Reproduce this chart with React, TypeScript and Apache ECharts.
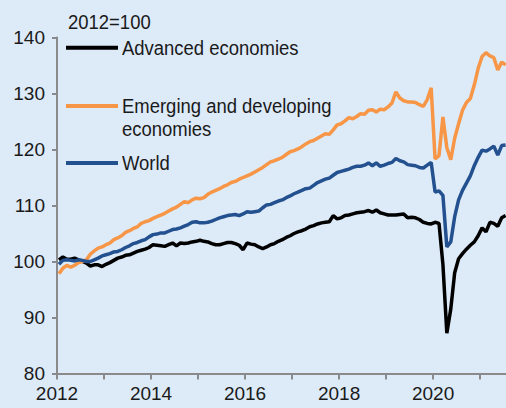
import React, { useEffect, useRef } from "react";
import * as echarts from "echarts";

// Monthly index (2012=100), Jan 2012 onwards
const advanced = [
  100.3, 100.8, 100.4, 100.4, 100.6, 100.3, 100.0, 99.7, 99.2, 99.4, 99.4, 99.1,
  99.5, 99.8, 100.2, 100.6, 100.8, 101.1, 101.2, 101.5, 101.8, 102.0, 102.2, 102.5,
  103.0, 102.9, 102.8, 102.7, 103.0, 103.3, 102.8, 103.3, 103.2, 103.3, 103.5, 103.6,
  103.8, 103.6, 103.5, 103.2, 103.0, 103.0, 103.2, 103.4, 103.4, 103.2, 102.9, 102.1,
  103.3, 103.1, 103.0, 102.6, 102.3, 102.6, 103.0, 103.2, 103.6, 103.9, 104.3, 104.6,
  105.0, 105.3, 105.5, 105.8, 106.2, 106.4, 106.7, 106.9, 107.0, 107.1, 108.2, 107.6,
  107.8, 108.2, 108.3, 108.5, 108.7, 108.8, 108.9, 109.1, 108.8, 109.2, 108.7, 108.5,
  108.3, 108.3, 108.3, 108.4, 108.5, 107.8, 107.9, 107.8, 107.5, 107.0, 106.8, 106.7,
  107.0, 106.8, 99.5, 87.2, 91.5, 98.0, 100.5, 101.4, 102.2, 102.9, 103.5, 104.6,
  106.0, 105.3, 107.0, 106.8, 106.3, 107.8, 108.2,
];
const emerging = [
  97.8, 98.8, 99.3, 99.0, 99.3, 99.8, 100.0, 100.3, 101.3, 101.9, 102.4, 102.6,
  103.0, 103.3, 103.9, 104.2, 104.6, 105.2, 105.5, 105.9, 106.2, 106.8, 107.1, 107.3,
  107.7, 108.0, 108.3, 108.6, 109.0, 109.4, 109.7, 110.2, 110.7, 110.5, 111.0, 111.3,
  111.2, 111.4, 112.0, 112.4, 112.7, 113.0, 113.4, 113.7, 114.1, 114.3, 114.7, 115.0,
  115.3, 115.6, 116.0, 116.4, 116.8, 117.3, 117.8, 118.0, 118.3, 118.6, 119.1, 119.6,
  119.8, 120.1, 120.5, 121.0, 121.4, 121.6, 122.0, 122.4, 122.8, 122.7, 123.5, 124.4,
  124.6, 125.1, 125.7, 125.5, 125.9, 126.4, 126.3, 127.0, 127.1, 126.7, 127.2, 127.1,
  127.6, 128.3, 130.3, 129.2, 128.7, 128.5, 128.5, 128.4, 128.0, 127.7, 128.9, 131.0,
  118.3, 118.9, 125.8, 120.3, 118.2, 122.0, 124.6, 127.0, 128.4, 129.1, 131.5, 134.5,
  136.6, 137.3, 136.7, 136.4, 134.2, 135.6, 135.1,
];
const world = [
  99.5, 100.2, 100.3, 100.2, 100.1, 100.3, 100.2, 100.0, 100.0, 100.3, 100.6, 101.0,
  101.2, 101.4, 101.7, 101.8, 102.1, 102.5, 102.8, 103.2, 103.4, 103.7, 103.9, 104.4,
  104.8, 104.9, 105.1, 105.1, 105.4, 105.7, 105.8, 106.0, 106.3, 106.6, 107.0, 107.1,
  106.9, 106.9, 107.0, 107.2, 107.5, 107.8, 108.0, 108.2, 108.3, 108.4, 108.2, 108.5,
  108.9, 108.8, 108.9, 109.0, 109.6, 110.1, 110.2, 110.5, 110.8, 111.0, 111.4, 111.7,
  112.1, 112.4, 112.7, 113.0, 113.1, 113.6, 114.1, 114.4, 114.7, 114.9, 115.4, 115.9,
  116.1, 116.3, 116.5, 116.8, 117.0, 117.0, 117.2, 117.6, 117.1, 117.6, 117.0, 117.2,
  117.5, 117.7, 118.4, 118.0, 117.8, 117.3, 117.2, 117.1, 116.8, 116.7, 117.2, 117.7,
  112.4, 112.6, 111.8, 102.6, 103.5, 108.0, 111.0, 112.7, 114.0, 115.3, 117.1, 118.6,
  119.9, 119.7, 120.1, 120.6, 119.0, 120.7, 120.8,
];

const seriesNames = ["Advanced economies", "Emerging and developing\neconomies", "World"];
const seriesColors = ["#000000", "#F79646", "#23508E"];
const yTicks = [80, 90, 100, 110, 120, 130, 140];
const startYear = 2012;
const endYear = 2021.55;
const unitLabel = "2012=100";

const FONT = "'Liberation Sans Narrow', 'Arial Narrow', 'Liberation Sans', Arial, sans-serif";
const TEXT_SCALE = 0.88;

function toPairs(vals: number[]) {
  return vals.map((v, i) => [startYear + (i + 0.5) / 12, v]);
}

export default function App() {
  const ref = useRef<HTMLDivElement>(null);
  useEffect(() => {
    if (!ref.current) return;
    const chart = echarts.init(ref.current, undefined, { renderer: "svg" });
    const gridLeft = 57;
    const gridTop = 37.5;
    const gridH = 336;
    const legendY = [47.7, 106, 163];
    const graphic: any[] = [
      {
        type: "text",
        x: 68,
        y: 22,
        scaleX: TEXT_SCALE,
        style: {
          text: unitLabel,
          font: `21px ${FONT}`,
          fill: "#1a1a1a",
          verticalAlign: "middle",
        },
      },
    ];
    seriesNames.forEach((name, k) => {
      graphic.push({
        type: "line",
        shape: { x1: 66, y1: legendY[k], x2: 118, y2: legendY[k] },
        style: { stroke: seriesColors[k], lineWidth: 4 },
      });
      const lines = name.split("\n");
      lines.forEach((ln, j) => {
        graphic.push({
          type: "text",
          x: 122,
          y: legendY[k] + j * 23,
          scaleX: TEXT_SCALE,
          style: {
            text: ln,
            font: `21px ${FONT}`,
            fill: "#1a1a1a",
            verticalAlign: "middle",
          },
        });
      });
    });
    const option: any = {
      animation: false,
      backgroundColor: "#DDEAF8",
      grid: { left: gridLeft, top: gridTop, width: 449, height: gridH, containLabel: false },
      xAxis: {
        type: "value",
        min: startYear,
        max: endYear,
        interval: 1,
        axisLine: { lineStyle: { color: "#8a8a8a", width: 2 } },
        axisTick: { show: true, length: 6, lineStyle: { color: "#8a8a8a", width: 2 } },
        splitLine: { show: false },
        axisLabel: {
          showMaxLabel: false,
          margin: 10,
          color: "#1a1a1a",
          fontFamily: FONT,
          fontSize: 19,
          formatter: (v: number) => (Math.round(v) % 2 === 0 ? String(Math.round(v)) : ""),
        },
      },
      yAxis: {
        type: "value",
        min: yTicks[0],
        max: yTicks[yTicks.length - 1],
        interval: 10,
        axisLine: { show: true, lineStyle: { color: "#8a8a8a", width: 2 } },
        axisTick: { show: true, length: 5, lineStyle: { color: "#8a8a8a", width: 2 } },
        splitLine: { show: false },
        axisLabel: { margin: 12, color: "#1a1a1a", fontFamily: FONT, fontSize: 19 },
      },
      graphic,
      series: [advanced, emerging, world].map((vals, k) => ({
        type: "line",
        name: seriesNames[k],
        data: toPairs(vals),
        showSymbol: false,
        symbol: "none",
        lineStyle: { color: seriesColors[k], width: 3.5 },
        z: 2 + k,
      })),
    };
    chart.setOption(option);
    return () => chart.dispose();
  }, []);
  return (
    <div
      ref={ref}
      style={{ position: "fixed", left: 0, top: 0, width: 506, height: 408 }}
    />
  );
}
